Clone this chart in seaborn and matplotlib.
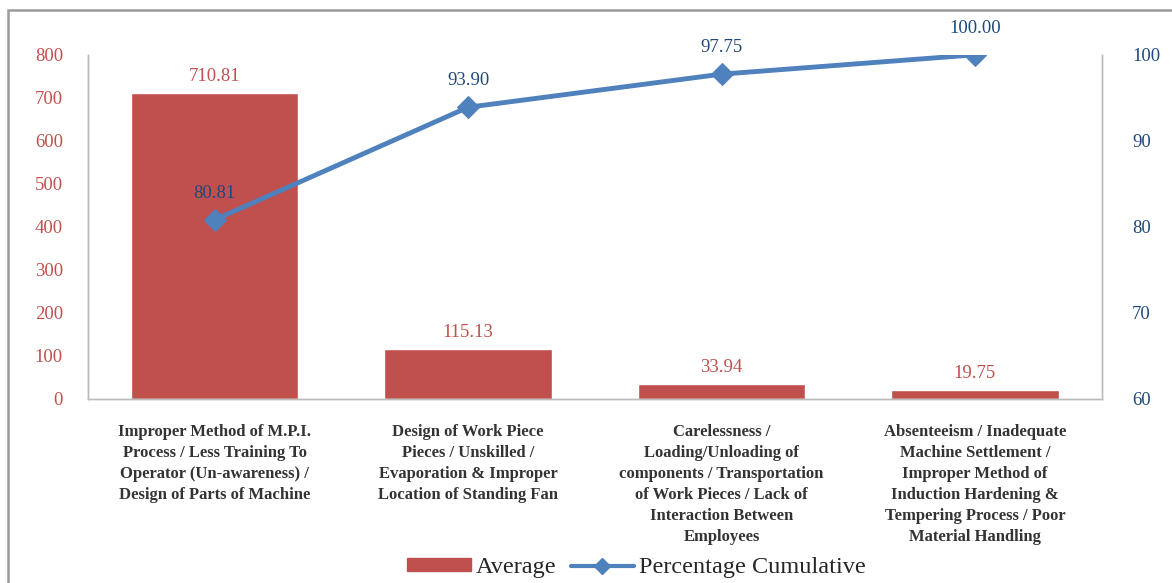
import seaborn as sns
import matplotlib.pyplot as plt
import numpy as np
import pandas as pd
from matplotlib.patches import Rectangle
from matplotlib.lines import Line2D
from matplotlib.patches import Patch

# datos del grafico de pareto
causas = [
    "Improper Method of M.P.I.\nProcess / Less Training To\nOperator (Un-awareness) /\nDesign of Parts of Machine",
    "Design of Work Piece\nPieces / Unskilled /\nEvaporation & Improper\nLocation of Standing Fan",
    "Carelessness /\nLoading/Unloading of\ncomponents / Transportation\nof Work Pieces / Lack of\nInteraction Between\nEmployees",
    "Absenteeism / Inadequate\nMachine Settlement /\nImproper Method of\nInduction Hardening &\nTempering Process / Poor\nMaterial Handling",
]
promedio = [710.81, 115.13, 33.94, 19.75]
acumulado = [80.81, 93.90, 97.75, 100.00]

rojo = "#C0504D"
azul = "#4F81BD"
azulOscuro = "#1F497D"

sns.set_style("white")
plt.rcParams['font.family'] = ['Liberation Serif', 'DejaVu Serif']

df = pd.DataFrame({"causa": causas, "promedio": promedio, "acumulado": acumulado})

fig = plt.figure(figsize=(11.72, 5.83), dpi=100)
ax = fig.add_axes([0.075, 0.316, 0.865, 0.590])

sns.barplot(data=df, x="causa", y="promedio", color=rojo, saturation=1, width=0.66, ax=ax)
ax.set_ylim(0, 800)
ax.set_yticks(range(0, 801, 100))
ax.set_xlabel("")
ax.set_ylabel("")
ax.tick_params(axis='y', colors=rojo, labelsize=13.5, length=0, pad=18)
ax.tick_params(axis='x', labelsize=12, length=0, pad=18, labelcolor="#333333")
for lbl in ax.get_xticklabels():
    lbl.set_fontweight("bold")
    lbl.set_linespacing(1.42)
for i, v in enumerate(promedio):
    ax.text(i, v + 20, f"{v:.2f}", ha="center", va="bottom", color=rojo, fontsize=13.5)

ax2 = ax.twinx()
sns.lineplot(x=np.arange(len(acumulado)), y=acumulado, color=azul, linewidth=3.5,
             marker="D", markersize=11, markeredgecolor=azul, ax=ax2)
ax2.set_ylim(60, 100)
ax2.set_yticks(range(60, 101, 10))
ax2.tick_params(axis='y', colors=azulOscuro, labelsize=13.5, length=0, pad=22)
for i, v in enumerate(acumulado):
    ax2.text(i, v + 2.1, f"{v:.2f}", ha="center", va="bottom", color=azulOscuro, fontsize=13.5)

for a in (ax, ax2):
    a.spines['top'].set_visible(False)
    for s in ('left', 'right', 'bottom'):
        a.spines[s].set_color("#BBBBBB")
        a.spines[s].set_linewidth(1)
ax.set_xlim(-0.5, 3.5)

manejadores = [
    Patch(facecolor=rojo, edgecolor=rojo, label="Average"),
    Line2D([0], [0], color=azul, linewidth=3, marker="D", markersize=8, label="Percentage Cumulative"),
]
fig.legend(handles=manejadores, loc="center", bbox_to_anchor=(0.543, 0.026), ncol=2,
           frameon=False, fontsize=17.5, handlelength=2.6, handleheight=0.45, columnspacing=0.6,
           handletextpad=0.2)

fig.patches.append(Rectangle((8 / 1172, -0.01), 1.0, 1 - 10 / 583 + 0.01, transform=fig.transFigure,
                             fill=False, edgecolor="#9A9A9A", linewidth=1.8))

fig.savefig("out.png", dpi=100)
